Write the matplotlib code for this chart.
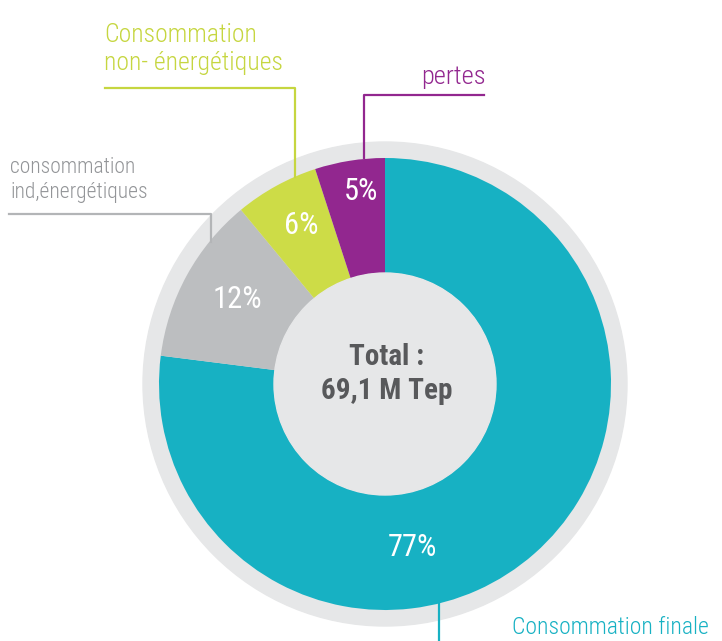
import matplotlib
matplotlib.use('Agg')
import matplotlib.pyplot as plt
from matplotlib import font_manager
from matplotlib.patches import Circle

categories = ['Consommation finale', 'consommation\nind,énergétiques',
              'Consommation\nnon- énergétiques', 'pertes']
shares = [77, 12, 6, 5]
pct_labels = ['77%', '12%', '6%', '5%']
colors = ['#17b1c3', '#bcbec0', '#cddc47', '#92278f']
label_colors = ['#17b1c3', '#939598', '#c6d640', '#92278f']
total_text = 'Total :\n69,1 M Tep'

names = {f.name for f in font_manager.fontManager.ttflist}
font = 'DejaVu Sans'
for cand in ['Liberation Sans Narrow', 'Roboto Condensed', 'Open Sans Condensed', 'Roboto']:
    if cand in names:
        font = cand
        break
plt.rcParams['font.family'] = [font, 'DejaVu Sans']
thin = 'light'

fig = plt.figure(figsize=(7.22, 6.41), dpi=100)
ax = fig.add_axes([0, 0, 1, 1])

cx, cy = 385, 384
r_out = 226
r_in = 111

# outer light ring
ax.add_patch(Circle((cx, cy), r_out + 16, color='#e6e7e8', zorder=0))

# y axis is flipped (pixel coords), so -90 / counterclock=True shows as top / clockwise
wedges, _ = ax.pie(shares, colors=colors, startangle=-90, counterclock=True,
                   center=(cx, cy), radius=r_out,
                   wedgeprops=dict(width=r_out - r_in, linewidth=0))
for w in wedges:
    w.set_zorder(1)

# inner disc
ax.add_patch(Circle((cx, cy), r_in, color='#e6e7e8', zorder=2))

ax.set_xlim(0, 722)
ax.set_ylim(641, 0)
ax.set_aspect('equal')
ax.axis('off')

# percentage labels
pct_pos = [(412, 547), (237, 300), (301, 226), (361, 192)]
for txt, (x, y) in zip(pct_labels, pct_pos):
    ax.text(x, y, txt, color='white', fontsize=22, fontweight='normal',
            ha='center', va='center', zorder=3)

ax.text(cx + 2, cy - 10, total_text, color='#58595b', fontsize=21, fontweight='bold',
        ha='center', va='center', linespacing=1.25, zorder=3)

# leader lines and category labels
lw = 1.6
ax.plot([439, 439], [603, 641], color=label_colors[0], lw=lw, zorder=3)
ax.text(512, 627, categories[0], color=label_colors[0], fontsize=17, fontweight=thin,
        ha='left', va='center')

ax.plot([9, 211, 211], [214, 214, 242], color='#b3b5b7', lw=lw, zorder=3)
ax.text(10, 180, categories[1], color=label_colors[1], fontsize=15.5, fontweight=thin,
        ha='left', va='center', linespacing=1.2)

ax.plot([105, 295, 295], [88, 88, 177], color=label_colors[2], lw=lw, zorder=3)
ax.text(104, 49, categories[2], color=label_colors[2], fontsize=18.5, fontweight=thin,
        ha='left', va='center', linespacing=1.2)

ax.plot([484, 364, 364], [95, 95, 158], color=label_colors[3], lw=lw, zorder=3)
ax.text(486, 77, categories[3], color=label_colors[3], fontsize=19, fontweight=thin,
        ha='right', va='center')

fig.savefig('out.png', dpi=100)
